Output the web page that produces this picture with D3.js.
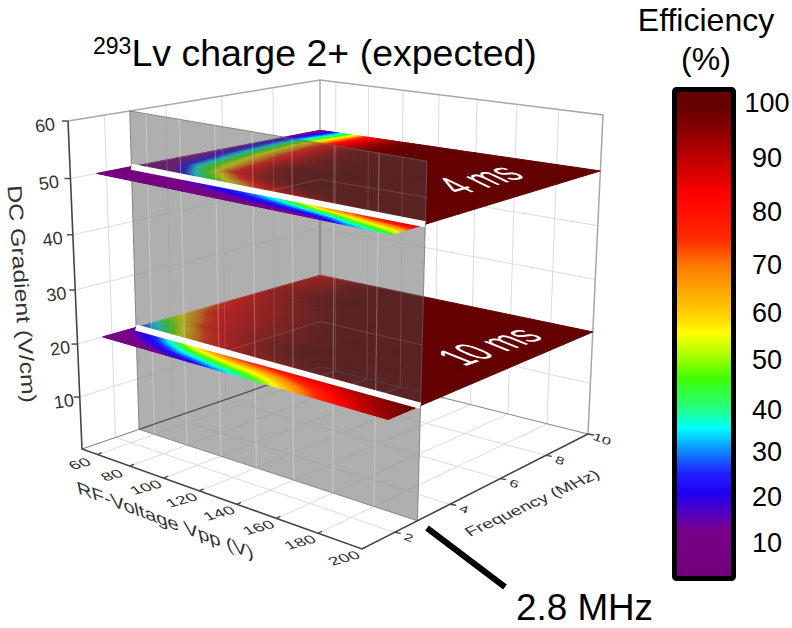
<!DOCTYPE html>
<html>
<head>
<meta charset="utf-8">
<style>
  html, body { margin: 0; padding: 0; background: #fff; }
  svg { display: block; }
  text { font-family: "Liberation Sans", Arial, sans-serif; }
</style>
<script src="https://cdn.jsdelivr.net/npm/d3@7"></script>
</head>
<body>
<div id="chart"></div>
<script>
// Axis ticks
var rfTicks = [60, 80, 100, 120, 140, 160, 180, 200];
var freqTicks = [2, 4, 6, 8, 10];
var dcTicks = [10, 20, 30, 40, 50, 60];

// Colour bar ticks, the printed bar is not evenly spaced
var barTicks = [100, 90, 80, 70, 60, 50, 40, 30, 20, 10];
var barTickY = [103, 158, 212, 265, 313, 360, 410, 452, 497, 543];

// Colour map
var effStops = [0, 13, 16.5, 21, 25.5, 30, 36, 40, 46.6, 50, 55.8, 60, 70, 75, 83.5, 90, 98, 100];
var colorStops = ['#700078', '#770088', '#5500c0', '#2000f0', '#2020ff', '#1080ff', '#00ffff', '#20ff90',
    '#40ff00', '#90ff00', '#ffff00', '#ffcf00', '#ff7a00', '#ff2a00', '#ff0000', '#c00000', '#700000', '#640000'];

// Efficiency grids, columns follow rfGrid, rows follow the frequency list
var rfGrid = [50, 60, 70, 80, 90, 100, 110, 120, 130, 140, 150, 160, 170, 180, 190, 200];
var freqFront = [1.7, 2.07, 2.43, 2.8];
var freqBack = [2.8, 3.2, 3.6, 4, 5, 6, 8, 10];

var eff4msFront = [
    [5, 6, 6, 6, 7, 7, 8, 8, 8, 9, 9, 10, 15, 27, 35, 44],
    [5, 6, 7, 7, 10, 11, 13, 15, 17, 20, 24, 28, 36, 47, 54, 62],
    [5, 6, 7, 9, 15, 17, 21, 24, 29, 35, 44, 55, 62, 70, 76, 82],
    [5, 6, 8, 12, 20, 24, 29, 34, 41, 52, 66, 81, 87, 91, 96, 100]
];
var eff4msBack = [
    [4, 5, 8, 13, 32, 47, 53, 60, 80, 85, 90, 95, 97, 98, 99, 100],
    [4, 6, 13, 32, 45, 53, 68, 84, 89, 93, 96, 98, 99, 100, 100, 100],
    [4, 8, 25, 45, 54, 75, 86, 92, 96, 98, 100, 100, 100, 100, 100, 100],
    [5, 15, 37, 50, 78, 88, 95, 98, 100, 100, 100, 100, 100, 100, 100, 100],
    [6, 22, 43, 62, 86, 95, 99, 100, 100, 100, 100, 100, 100, 100, 100, 100],
    [8, 30, 50, 72, 88, 95, 98, 100, 100, 100, 100, 100, 100, 100, 100, 100],
    [14, 36, 60, 84, 92, 97, 99, 100, 100, 100, 100, 100, 100, 100, 100, 100],
    [5, 25, 48, 80, 91, 96, 100, 100, 100, 100, 100, 100, 100, 100, 100, 100]
];
var eff10msFront = [
    [6, 7, 8, 10, 14, 18, 25, 31, 38, 46, 58, 68, 76, 84, 90, 94],
    [8, 11, 16, 22, 31, 37, 44, 49, 54, 60, 68, 75, 82, 88, 93, 96],
    [11, 17, 25, 37, 48, 56, 63, 67, 70, 74, 79, 84, 88, 92, 95, 98],
    [15, 24, 34, 52, 66, 76, 82, 84, 86, 88, 90, 92, 94, 96, 98, 100]
];
var eff10msBack = [
    [22, 30, 45, 58, 75, 85, 88, 91, 93, 95, 96, 97, 98, 99, 100, 100],
    [30, 38, 52, 68, 80, 87, 90, 93, 95, 97, 98, 99, 100, 100, 100, 100],
    [38, 48, 62, 76, 85, 89, 93, 96, 98, 100, 100, 100, 100, 100, 100, 100],
    [48, 58, 75, 84, 88, 92, 95, 98, 100, 100, 100, 100, 100, 100, 100, 100],
    [65, 80, 85, 87, 90, 93, 96, 98, 100, 100, 100, 100, 100, 100, 100, 100],
    [78, 85, 88, 90, 93, 96, 99, 100, 100, 100, 100, 100, 100, 100, 100, 100],
    [90, 92, 95, 98, 100, 100, 100, 100, 100, 100, 100, 100, 100, 100, 100, 100],
    [88, 90, 94, 98, 100, 100, 100, 100, 100, 100, 100, 100, 100, 100, 100, 100]
];

var cutFreq = 2.8;
var dc4ms = 50;
var dc10ms = 20;

var width = 792;
var height = 628;

var svg = d3.select('#chart').append('svg')
    .attr('width', width)
    .attr('height', height);

var defs = svg.append('defs');
defs.append('filter')
    .attr('id', 'soft')
    .append('feGaussianBlur')
    .attr('stdDeviation', 0.6);

// Scales from data to the unit box
var rfScale = d3.scaleLinear().domain([50, 200]).range([0, 1]);
var freqScale = d3.scaleLinear().domain([0.9, 10]).range([0, 1]);
var dcScale = d3.scaleLinear().domain([0, 60]).range([0, 1]);
var colorScale = d3.scaleLinear().domain(effStops).range(colorStops).clamp(true);
var barScale = d3.scaleLinear().domain(barTicks).range(barTickY);

// Where the box corners land on the page (near-left, near-right, far-right, far-left)
var floorBox = [[82, 449], [362, 549], [588, 434], [320, 367]];
var topBox = [[68, 121], [367, 177], [603, 115], [320, 80]];

// The vertical axis is slightly compressed by the perspective
function warp(w) {
    return w / (1.063 - 0.063 * w);
}

// Homography taking the unit square to a quad
function squareToQuad(q) {
    var sx = q[0][0] - q[1][0] + q[2][0] - q[3][0];
    var sy = q[0][1] - q[1][1] + q[2][1] - q[3][1];
    var dx1 = q[1][0] - q[2][0], dx2 = q[3][0] - q[2][0];
    var dy1 = q[1][1] - q[2][1], dy2 = q[3][1] - q[2][1];
    var det = dx1 * dy2 - dx2 * dy1;
    var g = (sx * dy2 - dx2 * sy) / det;
    var h = (dx1 * sy - sx * dy1) / det;
    return function (u, v) {
        var w = 1 + g * u + h * v;
        return [
            (q[0][0] + (q[1][0] * (1 + g) - q[0][0]) * u + (q[3][0] * (1 + h) - q[0][0]) * v) / w,
            (q[0][1] + (q[1][1] * (1 + g) - q[0][1]) * u + (q[3][1] * (1 + h) - q[0][1]) * v) / w
        ];
    };
}

// Each height gets its own plane mapping
var planes = {};
function project(rf, freq, dc) {
    if (!planes[dc]) {
        var t = warp(dcScale(dc));
        planes[dc] = squareToQuad(floorBox.map(function (p, i) {
            return [p[0] + (topBox[i][0] - p[0]) * t, p[1] + (topBox[i][1] - p[1]) * t];
        }));
    }
    return planes[dc](rfScale(rf), freqScale(freq));
}

var rfMin = rfScale.domain()[0], rfMax = rfScale.domain()[1];
var freqMin = freqScale.domain()[0], freqMax = freqScale.domain()[1];
var dcMax = dcScale.domain()[1];

var line = d3.line();

function drawLines(parent, segments, color, lineWidth, opacity) {
    parent.selectAll(null)
        .data(segments)
        .enter()
        .append('path')
        .attr('d', function (d) { return line(d); })
        .attr('fill', 'none')
        .attr('stroke', color)
        .attr('stroke-width', lineWidth)
        .attr('stroke-opacity', opacity);
}

// Text lying on a tilted plane: xv is the reading direction, yv the downward stroke direction
function tilted(x, y, xv, yv) {
    return 'matrix(' + [xv[0], xv[1], yv[0], yv[1], x, y].join(',') + ')';
}

// Grid on the floor and on the two back walls
var floorGrid = rfTicks.slice(0, -1).map(function (r) {
    return [project(r, freqMin, 0), project(r, freqMax, 0)];
}).concat(freqTicks.slice(0, -1).map(function (f) {
    return [project(rfMin, f, 0), project(rfMax, f, 0)];
}));
var wallGrid = rfTicks.slice(0, -1).map(function (r) {
    return [project(r, freqMax, 0), project(r, freqMax, dcMax)];
}).concat(freqTicks.slice(0, -1).map(function (f) {
    return [project(rfMin, f, 0), project(rfMin, f, dcMax)];
})).concat(dcTicks.slice(0, -1).map(function (z) {
    return [project(rfMin, freqMin, z), project(rfMin, freqMax, z), project(rfMax, freqMax, z)];
}));

var frame = svg.append('g');
drawLines(frame, floorGrid.concat(wallGrid), '#dcdcdc', 1, 1);

// Box edges
drawLines(frame, [
    [project(rfMin, freqMin, dcMax), project(rfMin, freqMax, dcMax), project(rfMax, freqMax, dcMax), project(rfMax, freqMax, 0)],
    [project(rfMin, freqMax, 0), project(rfMin, freqMax, dcMax)]
], '#a8a8a8', 1.5, 1);
drawLines(frame, [
    [project(rfMin, freqMin, 0), project(rfMin, freqMax, 0), project(rfMax, freqMax, 0)]
], '#8a8a8a', 1.2, 1);

// Draw one part of a plane as small shaded cells, flat cells stay whole
function drawSurface(parent, freqs, values, dc) {
    var cells = [];
    d3.range(freqs.length - 1).forEach(function (i) {
        d3.range(rfGrid.length - 1).forEach(function (j) {
            var corners = [values[i][j], values[i][j + 1], values[i + 1][j], values[i + 1][j + 1]];
            var steps = d3.min(corners) === d3.max(corners) ? 1 : 6;
            d3.range(steps).forEach(function (a) {
                d3.range(steps).forEach(function (b) {
                    var s0 = a / steps, s1 = (a + 1) / steps;
                    var t0 = b / steps, t1 = (b + 1) / steps;
                    var r0 = rfGrid[j] + (rfGrid[j + 1] - rfGrid[j]) * s0;
                    var r1 = rfGrid[j] + (rfGrid[j + 1] - rfGrid[j]) * s1;
                    var f0 = freqs[i] + (freqs[i + 1] - freqs[i]) * t0;
                    var f1 = freqs[i] + (freqs[i + 1] - freqs[i]) * t1;
                    var sm = (s0 + s1) / 2, tm = (t0 + t1) / 2;
                    var low = values[i][j] + (values[i][j + 1] - values[i][j]) * sm;
                    var high = values[i + 1][j] + (values[i + 1][j + 1] - values[i + 1][j]) * sm;
                    cells.push({
                        points: [project(r0, f0, dc), project(r1, f0, dc), project(r1, f1, dc), project(r0, f1, dc)],
                        eff: low + (high - low) * tm
                    });
                });
            });
        });
    });
    parent.selectAll(null)
        .data(cells)
        .enter()
        .append('polygon')
        .attr('points', function (d) { return d.points.join(' '); })
        .attr('fill', function (d) { return colorScale(d.eff); })
        .attr('stroke', function (d) { return colorScale(d.eff); })
        .attr('stroke-width', 1);
}

// Everything behind the cut plane
var backSurfaces = svg.append('g').attr('filter', 'url(#soft)');
drawSurface(backSurfaces, freqBack, eff10msBack, dc10ms);
drawSurface(backSurfaces, freqBack, eff4msBack, dc4ms);

// The grey plane at the cut frequency
var cutQuad = [
    project(rfMin, cutFreq, 0), project(rfMax, cutFreq, 0),
    project(rfMax, cutFreq, dcMax), project(rfMin, cutFreq, dcMax)
];
svg.append('polygon')
    .attr('points', cutQuad.join(' '))
    .attr('fill', 'rgb(78,78,78)')
    .attr('fill-opacity', 0.45)
    .attr('stroke', '#666')
    .attr('stroke-opacity', 0.7)
    .attr('stroke-width', 1);

defs.append('clipPath')
    .attr('id', 'cut-clip')
    .append('polygon')
    .attr('points', cutQuad.join(' '));

// Grid lines seen through the grey plane
var throughGrid = svg.append('g').attr('clip-path', 'url(#cut-clip)');
drawLines(throughGrid, floorGrid.concat(wallGrid), '#fff', 1, 0.14);
drawLines(throughGrid, rfTicks.slice(0, -1).map(function (r) {
    return [project(r, cutFreq, 0), project(r, cutFreq, dcMax)];
}), '#fff', 1.2, 0.26);
drawLines(throughGrid, [
    [project(rfMin, freqMin, 0), project(rfMin, freqMax, 0), project(rfMax, freqMax, 0)]
], '#444', 1.2, 0.7);

// Everything in front of the cut plane
var frontSurfaces = svg.append('g').attr('filter', 'url(#soft)');
drawSurface(frontSurfaces, freqFront, eff10msFront, dc10ms);
drawSurface(frontSurfaces, freqFront, eff4msFront, dc4ms);

// White lines where the planes meet the cut
drawLines(svg.append('g'), [dc4ms, dc10ms].map(function (z) {
    return [project(rfMin, cutFreq, z), project(rfMax, cutFreq, z)];
}), '#fff', 6, 1);

// Axis lines
var axes = svg.append('g');
drawLines(axes, [
    [project(rfMin, freqMin, dcMax), project(rfMin, freqMin, 0), project(rfMax, freqMin, 0), project(rfMax, freqMax, 0)]
], '#444', 1.6, 1);

var tickColor = '#333';

// DC gradient axis
var dcLabelShift = d3.scaleLinear().domain([10, 60]).range([-16, -23]);
dcTicks.forEach(function (z) {
    var p = project(rfMin, freqMin, z);
    drawLines(axes, [[p, [p[0] - 6, p[1]]]], '#444', 1.4, 1);
    axes.append('text')
        .attr('transform', 'translate(' + (p[0] + dcLabelShift(z)) + ',' + (p[1] + 4) + ') rotate(-8)')
        .attr('dy', '0.35em')
        .attr('text-anchor', 'middle')
        .attr('font-size', 18)
        .attr('fill', tickColor)
        .text(z);
});

// RF axis
rfTicks.forEach(function (r) {
    var p = project(r, freqMin, 0);
    drawLines(axes, [[p, [p[0] + 4, p[1] - 2]]], '#444', 1.3, 1);
    axes.append('text')
        .attr('transform', tilted(p[0] - 18, p[1] + 9, [1.35, -0.38], [0.7, 0.8]))
        .attr('dy', '0.35em')
        .attr('text-anchor', 'middle')
        .attr('font-size', 13)
        .attr('fill', tickColor)
        .text(r);
});

// Frequency axis
freqTicks.forEach(function (f) {
    var p = project(rfMax, f, 0);
    drawLines(axes, [[p, [p[0] + 6, p[1] + 1]]], '#444', 1.3, 1);
    axes.append('text')
        .attr('transform', 'translate(' + (p[0] + 14) + ',' + (p[1] + 5) + ') rotate(20) scale(1.3,0.8)')
        .attr('dy', '0.35em')
        .attr('text-anchor', 'middle')
        .attr('font-size', 13)
        .attr('fill', tickColor)
        .text(f);
});

// Axis titles
axes.append('text')
    .attr('transform', 'translate(22,294) rotate(86)')
    .attr('dy', '0.35em')
    .attr('text-anchor', 'middle')
    .attr('font-size', 20)
    .attr('fill', tickColor)
    .attr('textLength', 218)
    .attr('lengthAdjust', 'spacingAndGlyphs')
    .text('DC Gradient (V/cm)');
axes.append('text')
    .attr('transform', tilted(165, 520, [1.07, 0.4], [0.2, 0.95]))
    .attr('dy', '0.35em')
    .attr('text-anchor', 'middle')
    .attr('font-size', 19)
    .attr('fill', tickColor)
    .text('RF-Voltage Vpp (V)');
axes.append('text')
    .attr('transform', tilted(532, 503, [1, -0.46], [0.6, 0.65]))
    .attr('dy', '0.35em')
    .attr('text-anchor', 'middle')
    .attr('font-size', 17)
    .attr('fill', tickColor)
    .text('Frequency (MHz)');

// Labels on the planes
svg.append('text')
    .attr('transform', tilted(479, 179, [0.98, -0.27], [1.35, 0.65]))
    .attr('dy', '0.35em')
    .attr('text-anchor', 'middle')
    .attr('font-size', 31)
    .attr('fill', '#fff')
    .text('4 ms');
svg.append('text')
    .attr('transform', tilted(489, 346, [0.99, -0.35], [1.5, 0.6]))
    .attr('dy', '0.35em')
    .attr('text-anchor', 'middle')
    .attr('font-size', 30)
    .attr('fill', '#fff')
    .text('10 ms');

// Title
var title = svg.append('text')
    .attr('x', 93)
    .attr('y', 66)
    .attr('fill', '#000');
title.append('tspan')
    .attr('font-size', 23)
    .attr('dy', -12)
    .text('293');
title.append('tspan')
    .attr('font-size', 37.5)
    .attr('dy', 12)
    .text('Lv charge 2+ (expected)');

// Colour bar
var barTop = 92, barBottom = 576, barLeft = 677, barRight = 731;
var bar = svg.append('g');
bar.selectAll('rect')
    .data(d3.range(barTop, barBottom, 2))
    .enter()
    .append('rect')
    .attr('x', barLeft)
    .attr('y', function (d) { return d; })
    .attr('width', barRight - barLeft)
    .attr('height', 2.5)
    .attr('fill', function (d) { return colorScale(barScale.invert(d)); });
bar.append('rect')
    .attr('x', barLeft - 2.5)
    .attr('y', barTop - 2.5)
    .attr('width', barRight - barLeft + 5)
    .attr('height', barBottom - barTop + 5)
    .attr('rx', 2)
    .attr('fill', 'none')
    .attr('stroke', '#000')
    .attr('stroke-width', 5);

bar.selectAll('text.tick')
    .data(barTicks)
    .enter()
    .append('text')
    .attr('class', 'tick')
    .attr('x', 767)
    .attr('y', function (d) { return barScale(d); })
    .attr('dy', '0.35em')
    .attr('text-anchor', 'middle')
    .attr('font-size', 27)
    .attr('fill', '#000')
    .text(function (d) { return d; });

['Efficiency', '(%)'].forEach(function (label, i) {
    svg.append('text')
        .attr('x', 706)
        .attr('y', 31 + i * 39)
        .attr('text-anchor', 'middle')
        .attr('font-size', 32)
        .attr('fill', '#000')
        .text(label);
});

// Pointer to the cut frequency
drawLines(svg.append('g'), [[[427, 528], [505, 587]]], '#000', 6, 1);
svg.append('text')
    .attr('x', 516)
    .attr('y', 620)
    .attr('font-size', 36.8)
    .attr('fill', '#000')
    .text('2.8 MHz');
</script>
</body>
</html>
